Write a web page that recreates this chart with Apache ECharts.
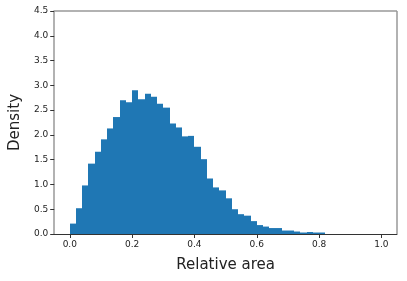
<!DOCTYPE html>
<html><head><meta charset="utf-8">
<script src="https://cdn.jsdelivr.net/npm/echarts@6/dist/echarts.min.js"></script>
<style>html,body{margin:0;padding:0;background:#fff}#c{width:407px;height:281px}</style>
</head><body><div id="c"></div>
<script>
const binWidth = 0.02;
const binStarts = [0,0.02,0.04,0.06,0.08,0.10,0.12,0.14,0.16,0.18,0.20,0.22,0.24,0.26,0.28,0.30,0.32,0.34,0.36,0.38,0.40,0.42,0.44,0.46,0.48,0.50,0.52,0.54,0.56,0.58,0.60,0.62,0.64,0.66,0.68,0.70,0.72,0.74,0.76,0.78,0.80];
const density = [0.21,0.52,0.98,1.42,1.66,1.91,2.13,2.36,2.70,2.66,2.90,2.72,2.83,2.77,2.63,2.55,2.23,2.15,1.97,1.98,1.76,1.51,1.12,0.94,0.88,0.72,0.50,0.40,0.37,0.26,0.18,0.15,0.12,0.12,0.07,0.07,0.05,0.03,0.04,0.03,0.03];
const xTicks = [0,0.2,0.4,0.6,0.8,1.0];
const yTicks = [0,0.5,1.0,1.5,2.0,2.5,3.0,3.5,4.0,4.5];

const chart = echarts.init(document.getElementById('c'), null, {renderer:'canvas'});
const data = binStarts.map((s,i)=>[s, s+binWidth, density[i]]);
chart.setOption({
  animation:false,
  grid:{left:54,right:10,top:11,bottom:47},
  xAxis:{type:'value',min:-0.05,max:1.05,
    name:'Relative area',nameLocation:'middle',nameGap:24,
    nameTextStyle:{fontFamily:'DejaVu Sans',fontSize:15,color:'#222'},
    axisLine:{show:true,onZero:false,lineStyle:{color:'#333',width:1}},
    axisTick:{show:true,length:4,lineStyle:{color:'#333'},customValues:xTicks},
    axisLabel:{fontFamily:'DejaVu Sans',fontSize:9,color:'#222',margin:6,customValues:xTicks,formatter:v=>v.toFixed(1)},
    splitLine:{show:false}},
  yAxis:{type:'value',min:0,max:4.5,interval:0.5,
    name:'Density',nameLocation:'middle',nameGap:31,
    nameTextStyle:{fontFamily:'DejaVu Sans',fontSize:15,color:'#222'},
    axisLine:{show:true,onZero:false,lineStyle:{color:'#999',width:1.5}},
    axisTick:{show:true,length:4,lineStyle:{color:'#333'}},
    axisLabel:{fontFamily:'DejaVu Sans',fontSize:9,color:'#222',margin:6,formatter:v=>v.toFixed(1)},
    splitLine:{show:false}},
  series:[{
    type:'custom',
    data:data,
    clip:true,
    renderItem:function(params,api){
      const p0 = api.coord([api.value(0), api.value(2)]);
      const p1 = api.coord([api.value(1), 0]);
      const x0 = Math.round(p0[0]), x1 = Math.round(p1[0]);
      return {type:'rect',shape:{x:x0,y:p0[1],width:x1-x0,height:p1[1]-p0[1]},
        style:{fill:'#1f77b4'}};
    }
  },{
    type:'line',data:[],markLine:{silent:true,symbol:'none',label:{show:false},
      lineStyle:{color:'#999',width:1.5,type:'solid'},
      data:[[{coord:[-0.05,4.5]},{coord:[1.05,4.5]}],[{coord:[1.05,0]},{coord:[1.05,4.5]}]]}
  }]
});
</script></body></html>
